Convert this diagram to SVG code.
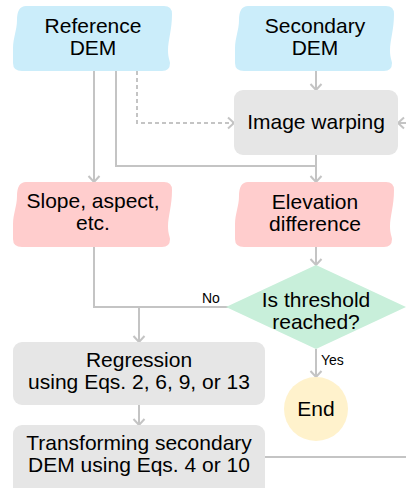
<svg xmlns="http://www.w3.org/2000/svg" width="406" height="488" viewBox="0 0 406 488">
<style>
text{font-family:"Liberation Sans",Arial,sans-serif;font-size:21px;fill:#000;text-anchor:middle}
.lbl{font-size:14px;text-anchor:start}
.ln{fill:none;stroke:#c4c4c4;stroke-width:2}
.dash{stroke-dasharray:4,3}
.blue{fill:#cbedfa}
.pink{fill:#ffcdcd}
.gray{fill:#e6e6e6}
</style>
<defs>
<path id="tape" d="M13,0 H151 Q159,0 159,8 C159,24 155,34 155,44 C155,52 157,55 157,57 Q157,65 149,65 H9 Q0,65 0,57 C0,50 0,46 0,42 C0,32 4,24 4,14 Q4,0 13,0 Z"/>
<marker id="arr" markerUnits="userSpaceOnUse" markerWidth="16" markerHeight="16" viewBox="-10 -8 12 16" refX="0" refY="0" orient="auto">
<path d="M-6,-5.5 L0,0 L-6,5.5" fill="none" stroke="#c4c4c4" stroke-width="2"/>
</marker>
</defs>
<g id="connectors">
<path class="ln" d="M94,71 V182" marker-end="url(#arr)"/>
<path class="ln" d="M116,71 V166 H316"/>
<path class="ln dash" d="M137,71 V123 H234" marker-end="url(#arr)"/>
<path class="ln" d="M316,71 V90" marker-end="url(#arr)"/>
<path class="ln" d="M316,155 V182" marker-end="url(#arr)"/>
<path class="ln" d="M406,123 H398" marker-end="url(#arr)"/>
<path class="ln" d="M316,247 V265" marker-end="url(#arr)"/>
<path class="ln" d="M94,247 V307 H228"/>
<path class="ln" d="M139,307 V342" marker-end="url(#arr)"/>
<path class="ln" d="M316,349 V377" marker-end="url(#arr)"/>
<path class="ln" d="M139,405 V425" marker-end="url(#arr)"/>
<path class="ln" d="M265,457 H406"/>
<text class="lbl" x="202" y="303">No</text>
<text class="lbl" x="321" y="365">Yes</text>
</g>
<g id="reference-dem">
<use href="#tape" class="blue" transform="translate(13,6)"/>
<text x="93" y="33">Reference</text>
<text x="93" y="55">DEM</text>
</g>
<g id="secondary-dem">
<use href="#tape" class="blue" transform="translate(235,6)"/>
<text x="315" y="33">Secondary</text>
<text x="315" y="55">DEM</text>
</g>
<g id="image-warping">
<rect class="gray" x="234" y="90" width="164" height="65" rx="9"/>
<text x="316" y="129">Image warping</text>
</g>
<g id="slope">
<use href="#tape" class="pink" transform="translate(13,182)"/>
<text x="93" y="208">Slope, aspect,</text>
<text x="93" y="230">etc.</text>
</g>
<g id="elevation-difference">
<use href="#tape" class="pink" transform="translate(235,182)"/>
<text x="315" y="209">Elevation</text>
<text x="315" y="231">difference</text>
</g>
<g id="threshold">
<path d="M316,265 L406,307 L316,349 L226,307 Z" fill="#c8efda"/>
<text x="316" y="307">Is threshold</text>
<text x="316" y="329">reached?</text>
</g>
<g id="end">
<circle cx="316" cy="409" r="32" fill="#fff2cc"/>
<text x="316" y="416">End</text>
</g>
<g id="regression">
<rect class="gray" x="13" y="342" width="252" height="63" rx="9"/>
<text x="139" y="367">Regression</text>
<text x="139" y="389">using Eqs. 2, 6, 9, or 13</text>
</g>
<g id="transforming">
<rect class="gray" x="13" y="425" width="252" height="75" rx="9"/>
<text x="139" y="450">Transforming secondary</text>
<text x="139" y="472">DEM using Eqs. 4 or 10</text>
</g>
</svg>
